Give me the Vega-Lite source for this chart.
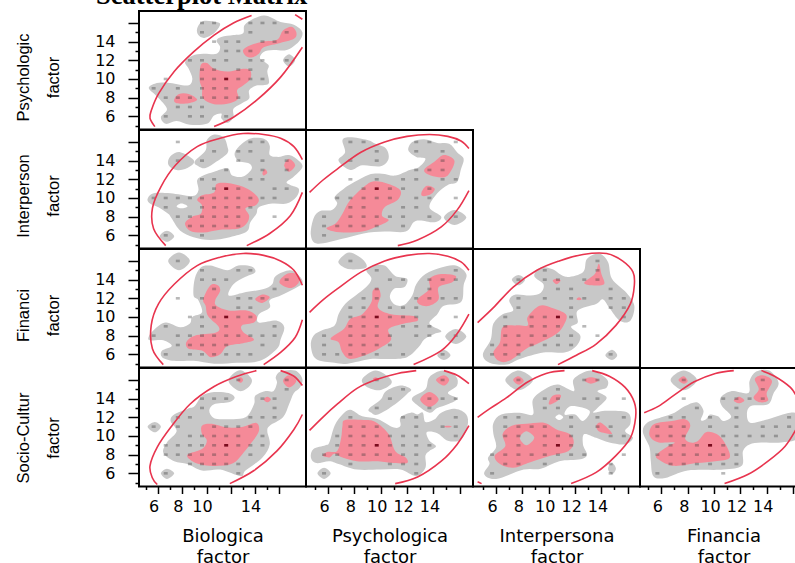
{"$schema":"https://vega.github.io/schema/vega-lite/v6.json","padding":{"left":14,"top":-18,"right":-12,"bottom":0},"background":"white","bounds":"flush","spacing":0,"columns":4,
"title":{"text":"Scatterplot Matrix","font":"Liberation Serif","fontWeight":"bold","fontSize":26.5,"anchor":"start","frame":"group","dx":-43,"offset":1},
"config":{"view":{"stroke":"#000","strokeWidth":2},"axis":{"grid":false,"domain":false,"tickColor":"#000","tickWidth":1.5,"labelColor":"#000","titleColor":"#000","labelFont":"DejaVu Sans","labelFontSize":16,"labelOverlap":false,"labelBound":false,"titleFontWeight":"normal"}},
"datasets":{
"a1":[{"x":5.6,"y":9,"s":1,"k":"g"},{"x":6.1,"y":9.5,"s":1,"k":"g"},{"x":7.2,"y":9.6,"s":1,"k":"g"},{"x":8.8,"y":9.3,"s":1,"k":"g"},{"x":9.2,"y":10,"s":1,"k":"g"},{"x":8.9,"y":11.1,"s":1,"k":"g"},{"x":8.6,"y":11.8,"s":1,"k":"g"},{"x":9.2,"y":12.5,"s":1,"k":"g"},{"x":10.1,"y":12.7,"s":1,"k":"g"},{"x":11.2,"y":12.7,"s":1,"k":"g"},{"x":11.5,"y":13.4,"s":1,"k":"g"},{"x":11.2,"y":14.1,"s":1,"k":"g"},{"x":11.6,"y":14.5,"s":1,"k":"g"},{"x":12.6,"y":14.7,"s":1,"k":"g"},{"x":13.4,"y":14.9,"s":1,"k":"g"},{"x":13.6,"y":15.9,"s":1,"k":"g"},{"x":15.1,"y":16.8,"s":1,"k":"g"},{"x":16.5,"y":16.1,"s":1,"k":"g"},{"x":17.6,"y":15.8,"s":1,"k":"g"},{"x":18.3,"y":15,"s":1,"k":"g"},{"x":18,"y":14,"s":1,"k":"g"},{"x":17,"y":13.1,"s":1,"k":"g"},{"x":15.9,"y":13.1,"s":1,"k":"g"},{"x":15.1,"y":12.9,"s":1,"k":"g"},{"x":14.8,"y":12.2,"s":1,"k":"g"},{"x":15.5,"y":11.5,"s":1,"k":"g"},{"x":15.4,"y":10.8,"s":1,"k":"g"},{"x":15.5,"y":9.5,"s":1,"k":"g"},{"x":14.5,"y":9.3,"s":1,"k":"g"},{"x":13.9,"y":8.8,"s":1,"k":"g"},{"x":13.9,"y":7.9,"s":1,"k":"g"},{"x":13.3,"y":7.4,"s":1,"k":"g"},{"x":12.6,"y":6.8,"s":1,"k":"g"},{"x":12.6,"y":5.9,"s":1,"k":"g"},{"x":12.1,"y":5.3,"s":1,"k":"g"},{"x":11.6,"y":5.8,"s":1,"k":"g"},{"x":11.6,"y":6.3,"s":1,"k":"g"},{"x":11,"y":6.1,"s":1,"k":"g"},{"x":10.4,"y":5.2,"s":1,"k":"g"},{"x":9,"y":5.1,"s":1,"k":"g"},{"x":7.9,"y":5.5,"s":1,"k":"g"},{"x":7,"y":5.2,"s":1,"k":"g"},{"x":6.6,"y":5.9,"s":1,"k":"g"},{"x":7.1,"y":6.8,"s":1,"k":"g"},{"x":6.3,"y":8.1,"s":1,"k":"g"},
{"x":9.6,"y":15.4,"s":2,"k":"g"},{"x":10.1,"y":16.2,"s":2,"k":"g"},{"x":11.2,"y":16.1,"s":2,"k":"g"},{"x":11.5,"y":15.8,"s":2,"k":"g"},{"x":11,"y":14.9,"s":2,"k":"g"},{"x":10.2,"y":14.4,"s":2,"k":"g"},{"x":9.7,"y":14.7,"s":2,"k":"g"},
{"x":16.7,"y":12,"s":3,"k":"g"},{"x":17.2,"y":12.65,"s":3,"k":"g"},{"x":17.7,"y":12,"s":3,"k":"g"},{"x":17.2,"y":11.35,"s":3,"k":"g"},
{"x":9.9,"y":11.5,"s":4,"k":"r"},{"x":10.4,"y":11.7,"s":4,"k":"r"},{"x":11,"y":11.1,"s":4,"k":"r"},{"x":12.1,"y":10.8,"s":4,"k":"r"},{"x":13.4,"y":11.1,"s":4,"k":"r"},{"x":14,"y":10.9,"s":4,"k":"r"},{"x":14,"y":10,"s":4,"k":"r"},{"x":13.4,"y":9.3,"s":4,"k":"r"},{"x":12.9,"y":8.8,"s":4,"k":"r"},{"x":13,"y":7.9,"s":4,"k":"r"},{"x":12.3,"y":7.4,"s":4,"k":"r"},{"x":11,"y":7.3,"s":4,"k":"r"},{"x":10.1,"y":7.9,"s":4,"k":"r"},{"x":10,"y":9,"s":4,"k":"r"},{"x":9.8,"y":9.9,"s":4,"k":"r"},
{"x":7.7,"y":7.8,"s":5,"k":"r"},{"x":8.1,"y":8.4,"s":5,"k":"r"},{"x":8.9,"y":8.4,"s":5,"k":"r"},{"x":9.6,"y":7.8,"s":5,"k":"r"},{"x":8.9,"y":7.4,"s":5,"k":"r"},{"x":7.9,"y":7.4,"s":5,"k":"r"},
{"x":13.4,"y":13.1,"s":6,"k":"r"},{"x":14,"y":13.6,"s":6,"k":"r"},{"x":15,"y":14,"s":6,"k":"r"},{"x":16.2,"y":14.2,"s":6,"k":"r"},{"x":16.7,"y":15.2,"s":6,"k":"r"},{"x":17.4,"y":15.6,"s":6,"k":"r"},{"x":17.8,"y":15,"s":6,"k":"r"},{"x":17.6,"y":14.3,"s":6,"k":"r"},{"x":16.3,"y":13.8,"s":6,"k":"r"},{"x":15.1,"y":13.4,"s":6,"k":"r"},{"x":14.7,"y":12.7,"s":6,"k":"r"},{"x":14.1,"y":12.3,"s":6,"k":"r"},{"x":13.6,"y":12.5,"s":6,"k":"r"}],
"a2":[{"x":10,"y":16},{"x":11,"y":16},{"x":14,"y":16},{"x":15,"y":16},{"x":16,"y":16},{"x":10,"y":15},{"x":14,"y":15},{"x":17,"y":15},{"x":11,"y":14},{"x":12,"y":14},{"x":13,"y":14},{"x":15,"y":14},{"x":16,"y":14},{"x":12,"y":13},{"x":13,"y":13},{"x":14,"y":13},{"x":9,"y":12},{"x":10,"y":12},{"x":11,"y":12},{"x":12,"y":12},{"x":14,"y":12},{"x":15,"y":12},{"x":17,"y":12},{"x":10,"y":11},{"x":11,"y":11},{"x":13,"y":11},{"x":14,"y":11},{"x":7,"y":10},{"x":10,"y":10},{"x":11,"y":10},{"x":12,"y":10,"n":2},{"x":13,"y":10},{"x":14,"y":10},{"x":15,"y":10},{"x":6,"y":9},{"x":8,"y":9},{"x":10,"y":9},{"x":11,"y":9},{"x":12,"y":9},{"x":7,"y":8},{"x":8,"y":8},{"x":9,"y":8},{"x":10,"y":8},{"x":11,"y":8},{"x":12,"y":8},{"x":13,"y":8},{"x":8,"y":7},{"x":9,"y":7},{"x":10,"y":7},{"x":7,"y":6},{"x":9,"y":6},{"x":10,"y":6},{"x":12,"y":6}],
"a3":[{"x":14.1,"y":16.8,"e":1},{"x":12.6,"y":16,"e":1},{"x":11,"y":14.7,"e":1},{"x":9.3,"y":12.9,"e":1},{"x":7.7,"y":10.8,"e":1},{"x":6.4,"y":8.4,"e":1},{"x":5.8,"y":6.6,"e":1},{"x":5.7,"y":5.8,"e":1},{"x":6.1,"y":4.9,"e":1},{"x":11,"y":4.9,"e":2},{"x":12.6,"y":5.9,"e":2},{"x":14.5,"y":7.7,"e":2},{"x":16.5,"y":10.2,"e":2},{"x":18.3,"y":13.4,"e":2},{"x":17.7,"y":16.9,"e":3},{"x":18.3,"y":16.4,"e":3}],
"b1":[{"x":5.5,"y":9.9,"s":1,"k":"g"},{"x":6,"y":10.5,"s":1,"k":"g"},{"x":7.4,"y":10.5,"s":1,"k":"g"},{"x":9.2,"y":10.2,"s":1,"k":"g"},{"x":9.7,"y":10.8,"s":1,"k":"g"},{"x":9.6,"y":11.9,"s":1,"k":"g"},{"x":10.1,"y":12.4,"s":1,"k":"g"},{"x":11,"y":12.8,"s":1,"k":"g"},{"x":12.1,"y":13.2,"s":1,"k":"g"},{"x":12.5,"y":12.4,"s":1,"k":"g"},{"x":13.4,"y":12.3,"s":1,"k":"g"},{"x":14.1,"y":13.1,"s":1,"k":"g"},{"x":13.9,"y":13.7,"s":1,"k":"g"},{"x":13,"y":14,"s":1,"k":"g"},{"x":12.7,"y":14.8,"s":1,"k":"g"},{"x":13.3,"y":15.8,"s":1,"k":"g"},{"x":14.1,"y":16.4,"s":1,"k":"g"},{"x":15.2,"y":16.3,"s":1,"k":"g"},{"x":15.6,"y":15.6,"s":1,"k":"g"},{"x":15.6,"y":14.6,"s":1,"k":"g"},{"x":16.3,"y":14.4,"s":1,"k":"g"},{"x":17.2,"y":14.6,"s":1,"k":"g"},{"x":18,"y":14,"s":1,"k":"g"},{"x":18.3,"y":13.3,"s":1,"k":"g"},{"x":17.6,"y":12.3,"s":1,"k":"g"},{"x":17,"y":11.7,"s":1,"k":"g"},{"x":17.3,"y":11.4,"s":1,"k":"g"},{"x":18,"y":11,"s":1,"k":"g"},{"x":17.8,"y":10.1,"s":1,"k":"g"},{"x":17,"y":9.4,"s":1,"k":"g"},{"x":15.8,"y":9.4,"s":1,"k":"g"},{"x":14.7,"y":9,"s":1,"k":"g"},{"x":14.5,"y":8.3,"s":1,"k":"g"},{"x":14,"y":7.4,"s":1,"k":"g"},{"x":13.7,"y":6.4,"s":1,"k":"g"},{"x":12.3,"y":5.8,"s":1,"k":"g"},{"x":10.7,"y":5.5,"s":1,"k":"g"},{"x":9.3,"y":5.8,"s":1,"k":"g"},{"x":8.2,"y":6.5,"s":1,"k":"g"},{"x":7.5,"y":7.8,"s":1,"k":"g"},{"x":7.2,"y":8.3,"s":1,"k":"g"},{"x":6.4,"y":9,"s":1,"k":"g"},{"x":5.7,"y":9.4,"s":1,"k":"g"},
{"x":7.2,"y":14,"s":2,"k":"g"},{"x":7.5,"y":14.6,"s":2,"k":"g"},{"x":8.2,"y":14.9,"s":2,"k":"g"},{"x":9.2,"y":14.2,"s":2,"k":"g"},{"x":9.3,"y":13.7,"s":2,"k":"g"},{"x":8.6,"y":13.1,"s":2,"k":"g"},{"x":7.9,"y":13,"s":2,"k":"g"},{"x":7.3,"y":13.4,"s":2,"k":"g"},
{"x":9.4,"y":13.9,"s":3,"k":"g"},{"x":10.3,"y":15.1,"s":3,"k":"g"},{"x":10.4,"y":16.2,"s":3,"k":"g"},{"x":11,"y":16.8,"s":3,"k":"g"},{"x":11.8,"y":16.5,"s":3,"k":"g"},{"x":12.1,"y":15.5,"s":3,"k":"g"},{"x":12.1,"y":14.8,"s":3,"k":"g"},{"x":11.2,"y":13.9,"s":3,"k":"g"},{"x":10.3,"y":13.2,"s":3,"k":"g"},{"x":9.7,"y":13.4,"s":3,"k":"g"},
{"x":6.5,"y":5.9,"s":4,"k":"g"},{"x":7.1,"y":6.5,"s":4,"k":"g"},{"x":7.7,"y":5.9,"s":4,"k":"g"},{"x":7.1,"y":5.3,"s":4,"k":"g"},
{"x":7.9,"y":9.1,"s":5,"k":"w"},{"x":8.3,"y":9.4,"s":5,"k":"w"},{"x":8.8,"y":9.1,"s":5,"k":"w"},{"x":8.3,"y":8.9,"s":5,"k":"w"},
{"x":11.2,"y":11.5,"s":6,"k":"r"},{"x":12.1,"y":11.6,"s":6,"k":"r"},{"x":13.4,"y":11.2,"s":6,"k":"r"},{"x":14.3,"y":10.5,"s":6,"k":"r"},{"x":14.7,"y":9.8,"s":6,"k":"r"},{"x":14.4,"y":9.2,"s":6,"k":"r"},{"x":13.6,"y":8.9,"s":6,"k":"r"},{"x":13.9,"y":8.1,"s":6,"k":"r"},{"x":13.7,"y":7.3,"s":6,"k":"r"},{"x":13,"y":6.7,"s":6,"k":"r"},{"x":11.5,"y":6.6,"s":6,"k":"r"},{"x":10.1,"y":6.3,"s":6,"k":"r"},{"x":9,"y":6.5,"s":6,"k":"r"},{"x":8.6,"y":7.3,"s":6,"k":"r"},{"x":9.2,"y":8,"s":6,"k":"r"},{"x":9.9,"y":8.3,"s":6,"k":"r"},{"x":10,"y":9.2,"s":6,"k":"r"},{"x":9.6,"y":9.8,"s":6,"k":"r"},{"x":10,"y":10.3,"s":6,"k":"r"},{"x":11,"y":10.6,"s":6,"k":"r"},
{"x":16.8,"y":13.5,"s":7,"k":"r"},{"x":17.2,"y":14.2,"s":7,"k":"r"},{"x":17.7,"y":13.5,"s":7,"k":"r"},{"x":17.2,"y":12.8,"s":7,"k":"r"},
{"x":15,"y":12.7,"s":8,"k":"r"},{"x":15.2,"y":13.1,"s":8,"k":"r"},{"x":15.4,"y":12.7,"s":8,"k":"r"},{"x":15.1,"y":12.4,"s":8,"k":"r"}],
"b2":[{"x":8,"y":16},{"x":14,"y":16},{"x":15,"y":16},{"x":11,"y":15},{"x":13,"y":15},{"x":14,"y":15},{"x":8,"y":14},{"x":10,"y":14},{"x":13,"y":14},{"x":15,"y":14},{"x":17,"y":14},{"x":12,"y":13},{"x":15,"y":13},{"x":17,"y":13},{"x":10,"y":12},{"x":11,"y":12},{"x":14,"y":12},{"x":15,"y":12},{"x":11,"y":11},{"x":12,"y":11,"n":2},{"x":13,"y":11},{"x":16,"y":11},{"x":17,"y":11},{"x":6,"y":10},{"x":7,"y":10},{"x":8,"y":10},{"x":9,"y":10},{"x":10,"y":10},{"x":11,"y":10},{"x":12,"y":10},{"x":13,"y":10},{"x":14,"y":10},{"x":15,"y":10},{"x":16,"y":10},{"x":7,"y":9},{"x":10,"y":9},{"x":11,"y":9},{"x":12,"y":9},{"x":13,"y":9},{"x":14,"y":9},{"x":8,"y":8},{"x":9,"y":8},{"x":10,"y":8},{"x":11,"y":8},{"x":12,"y":8},{"x":13,"y":8},{"x":16,"y":8},{"x":9,"y":7},{"x":10,"y":7},{"x":11,"y":7},{"x":12,"y":7},{"x":13,"y":7},{"x":7,"y":6},{"x":10,"y":6}],
"b3":[{"x":18.3,"y":14.1,"e":1},{"x":17.6,"y":15.5,"e":1},{"x":16.5,"y":16.4,"e":1},{"x":15.1,"y":16.8,"e":1},{"x":13.4,"y":16.9,"e":1},{"x":11.5,"y":16.4,"e":1},{"x":9.6,"y":15.5,"e":1},{"x":7.8,"y":13.5,"e":1},{"x":6.6,"y":11.2,"e":1},{"x":5.9,"y":8.9,"e":1},{"x":6,"y":6.7,"e":1},{"x":7,"y":4.9,"e":1},{"x":13.7,"y":4.9,"e":2},{"x":15.6,"y":6.2,"e":2},{"x":17.3,"y":8.1,"e":2},{"x":18.3,"y":10.6,"e":2}],
"c1":[{"x":5,"y":6,"s":1,"k":"g"},{"x":5.2,"y":7.8,"s":1,"k":"g"},{"x":5.7,"y":8.6,"s":1,"k":"g"},{"x":6.6,"y":8.7,"s":1,"k":"g"},{"x":7,"y":9.4,"s":1,"k":"g"},{"x":6.8,"y":10.1,"s":1,"k":"g"},{"x":7.5,"y":11,"s":1,"k":"g"},{"x":8.3,"y":11.7,"s":1,"k":"g"},{"x":9.4,"y":12.5,"s":1,"k":"g"},{"x":10.4,"y":12.6,"s":1,"k":"g"},{"x":11.4,"y":12.4,"s":1,"k":"g"},{"x":12.5,"y":13,"s":1,"k":"g"},{"x":13.2,"y":13.3,"s":1,"k":"g"},{"x":13.7,"y":14.2,"s":1,"k":"g"},{"x":13,"y":14.4,"s":1,"k":"g"},{"x":12.4,"y":15.1,"s":1,"k":"g"},{"x":12.7,"y":16,"s":1,"k":"g"},{"x":13.6,"y":16.3,"s":1,"k":"g"},{"x":14.6,"y":15.9,"s":1,"k":"g"},{"x":15.5,"y":15.8,"s":1,"k":"g"},{"x":16.1,"y":14.9,"s":1,"k":"g"},{"x":16.6,"y":14.2,"s":1,"k":"g"},{"x":16.4,"y":13.1,"s":1,"k":"g"},{"x":16.1,"y":11.7,"s":1,"k":"g"},{"x":15.4,"y":11.4,"s":1,"k":"g"},{"x":14.6,"y":10.5,"s":1,"k":"g"},{"x":14,"y":9,"s":1,"k":"g"},{"x":14.9,"y":8,"s":1,"k":"g"},{"x":14.4,"y":7.4,"s":1,"k":"g"},{"x":13.3,"y":7.6,"s":1,"k":"g"},{"x":12.8,"y":7.4,"s":1,"k":"g"},{"x":12.2,"y":6.4,"s":1,"k":"g"},{"x":10.6,"y":6.4,"s":1,"k":"g"},{"x":9,"y":6.2,"s":1,"k":"g"},{"x":7.3,"y":5.6,"s":1,"k":"g"},{"x":5.5,"y":5.1,"s":1,"k":"g"},
{"x":15.1,"y":7.9,"s":2,"k":"g"},{"x":15.9,"y":8.7,"s":2,"k":"g"},{"x":16.8,"y":7.9,"s":2,"k":"g"},{"x":15.9,"y":7.1,"s":2,"k":"g"},
{"x":7.4,"y":16.2,"s":3,"k":"g"},{"x":8,"y":16.5,"s":3,"k":"g"},{"x":9.3,"y":16.2,"s":3,"k":"g"},{"x":9.9,"y":15.8,"s":3,"k":"g"},{"x":10.7,"y":15.3,"s":3,"k":"g"},{"x":10.9,"y":14.2,"s":3,"k":"g"},{"x":10.3,"y":13.4,"s":3,"k":"g"},{"x":8.9,"y":13.5,"s":3,"k":"g"},{"x":8,"y":13,"s":3,"k":"g"},{"x":7.1,"y":14,"s":3,"k":"g"},{"x":7.6,"y":14.9,"s":3,"k":"g"},
{"x":6.2,"y":6.8,"s":4,"k":"r"},{"x":6.9,"y":7.3,"s":4,"k":"r"},{"x":7.4,"y":8.3,"s":4,"k":"r"},{"x":8,"y":9.8,"s":4,"k":"r"},{"x":9.2,"y":11.4,"s":4,"k":"r"},{"x":9.9,"y":11.8,"s":4,"k":"r"},{"x":10.9,"y":11.5,"s":4,"k":"r"},{"x":11.8,"y":10.8,"s":4,"k":"r"},{"x":11.6,"y":9.8,"s":4,"k":"r"},{"x":10.6,"y":9,"s":4,"k":"r"},{"x":10.4,"y":8.1,"s":4,"k":"r"},{"x":10.9,"y":7.6,"s":4,"k":"r"},{"x":9.9,"y":6.9,"s":4,"k":"r"},{"x":8.9,"y":6.4,"s":4,"k":"r"},{"x":7.5,"y":6.3,"s":4,"k":"r"},{"x":6.5,"y":6.5,"s":4,"k":"r"},
{"x":13.6,"y":13,"s":5,"k":"r"},{"x":14.4,"y":13.9,"s":5,"k":"r"},{"x":15.1,"y":14.6,"s":5,"k":"r"},{"x":15.9,"y":14,"s":5,"k":"r"},{"x":15.5,"y":12.6,"s":5,"k":"r"},{"x":15,"y":12.2,"s":5,"k":"r"},{"x":14.1,"y":12.4,"s":5,"k":"r"},
{"x":13.4,"y":10.6,"s":6,"k":"r"},{"x":13.8,"y":11.3,"s":6,"k":"r"},{"x":14.4,"y":11,"s":6,"k":"r"},{"x":14.1,"y":10.4,"s":6,"k":"r"},{"x":13.5,"y":10.2,"s":6,"k":"r"}],
"c2":[{"x":8,"y":16},{"x":9,"y":16},{"x":13,"y":16},{"x":14,"y":16},{"x":16,"y":16},{"x":10,"y":15},{"x":13,"y":15},{"x":15,"y":15},{"x":8,"y":14},{"x":10,"y":14},{"x":15,"y":14},{"x":13,"y":13},{"x":14,"y":13},{"x":15,"y":13},{"x":8,"y":12},{"x":10,"y":12},{"x":12,"y":12},{"x":13,"y":12},{"x":15,"y":12},{"x":16,"y":12},{"x":9,"y":11},{"x":10,"y":11,"n":2},{"x":11,"y":11},{"x":12,"y":11},{"x":14,"y":11},{"x":7,"y":10},{"x":8,"y":10},{"x":9,"y":10},{"x":10,"y":10},{"x":11,"y":10},{"x":13,"y":10},{"x":14,"y":10},{"x":16,"y":10},{"x":8,"y":9},{"x":9,"y":9},{"x":12,"y":9},{"x":13,"y":9},{"x":6,"y":8},{"x":8,"y":8},{"x":9,"y":8},{"x":10,"y":8},{"x":11,"y":8},{"x":12,"y":8},{"x":14,"y":8},{"x":16,"y":8},{"x":6,"y":7},{"x":7,"y":7},{"x":8,"y":7},{"x":9,"y":7},{"x":10,"y":7},{"x":12,"y":7},{"x":6,"y":6}],
"c3":[{"x":17,"y":15.3,"e":1},{"x":16.4,"y":16.1,"e":1},{"x":15.4,"y":16.6,"e":1},{"x":14,"y":16.8,"e":1},{"x":12.3,"y":16.6,"e":1},{"x":10.6,"y":16,"e":1},{"x":8.8,"y":14.9,"e":1},{"x":7,"y":13.1,"e":1},{"x":5.9,"y":11.9,"e":1},{"x":4.9,"y":10.6,"e":1},{"x":17,"y":10.8,"e":2},{"x":16.1,"y":8.7,"e":2},{"x":14.9,"y":6.9,"e":2},{"x":13.1,"y":5.5,"e":2},{"x":11.6,"y":4.9,"e":2}],
"d1":[{"x":5.6,"y":7.9,"s":1,"k":"g"},{"x":6.1,"y":8.7,"s":1,"k":"g"},{"x":7,"y":9.4,"s":1,"k":"g"},{"x":8.2,"y":8.9,"s":1,"k":"g"},{"x":9,"y":9.3,"s":1,"k":"g"},{"x":9.2,"y":10,"s":1,"k":"g"},{"x":10,"y":10.5,"s":1,"k":"g"},{"x":9.7,"y":11.8,"s":1,"k":"g"},{"x":9.3,"y":12.3,"s":1,"k":"g"},{"x":9.4,"y":14.1,"s":1,"k":"g"},{"x":9.9,"y":15.3,"s":1,"k":"g"},{"x":10.7,"y":15.5,"s":1,"k":"g"},{"x":12.1,"y":15,"s":1,"k":"g"},{"x":13,"y":15.5,"s":1,"k":"g"},{"x":14.1,"y":15.4,"s":1,"k":"g"},{"x":14.4,"y":14.8,"s":1,"k":"g"},{"x":13.6,"y":14.3,"s":1,"k":"g"},{"x":12.6,"y":13.5,"s":1,"k":"g"},{"x":12.2,"y":12.3,"s":1,"k":"g"},{"x":13.4,"y":12.6,"s":1,"k":"g"},{"x":15.1,"y":13,"s":1,"k":"g"},{"x":15.8,"y":13.5,"s":1,"k":"g"},{"x":16.1,"y":14.4,"s":1,"k":"g"},{"x":17.3,"y":15,"s":1,"k":"g"},{"x":18.1,"y":14.3,"s":1,"k":"g"},{"x":18.3,"y":13.6,"s":1,"k":"g"},{"x":17.6,"y":13,"s":1,"k":"g"},{"x":16.5,"y":12.3,"s":1,"k":"g"},{"x":15.6,"y":11.8,"s":1,"k":"g"},{"x":15.6,"y":11,"s":1,"k":"g"},{"x":14.7,"y":10.3,"s":1,"k":"g"},{"x":14.7,"y":9.4,"s":1,"k":"g"},{"x":16.2,"y":9.6,"s":1,"k":"g"},{"x":16.8,"y":8.9,"s":1,"k":"g"},{"x":16.5,"y":7.6,"s":1,"k":"g"},{"x":16.2,"y":6.6,"s":1,"k":"g"},{"x":14.8,"y":5.3,"s":1,"k":"g"},{"x":12.9,"y":5.1,"s":1,"k":"g"},{"x":11,"y":5,"s":1,"k":"g"},{"x":9.3,"y":5.3,"s":1,"k":"g"},{"x":7.7,"y":5.3,"s":1,"k":"g"},{"x":6.7,"y":5.7,"s":1,"k":"g"},{"x":6.7,"y":6.4,"s":1,"k":"g"},{"x":7.5,"y":6.9,"s":1,"k":"g"},{"x":6.8,"y":7.5,"s":1,"k":"g"},{"x":5.7,"y":7.5,"s":1,"k":"g"},
{"x":7.2,"y":16,"s":2,"k":"g"},{"x":8.1,"y":16.9,"s":2,"k":"g"},{"x":9,"y":16,"s":2,"k":"g"},{"x":8.1,"y":15,"s":2,"k":"g"},
{"x":10.7,"y":13.4,"s":3,"k":"r"},{"x":11.3,"y":13.4,"s":3,"k":"r"},{"x":11.5,"y":12.8,"s":3,"k":"r"},{"x":11.1,"y":11.8,"s":3,"k":"r"},{"x":11.2,"y":11.2,"s":3,"k":"r"},{"x":12.2,"y":10.7,"s":3,"k":"r"},{"x":13.7,"y":10.7,"s":3,"k":"r"},{"x":14.5,"y":10.1,"s":3,"k":"r"},{"x":14.3,"y":9.4,"s":3,"k":"r"},{"x":13.3,"y":9.1,"s":3,"k":"r"},{"x":13.4,"y":8.4,"s":3,"k":"r"},{"x":14.3,"y":7.6,"s":3,"k":"r"},{"x":13.4,"y":7.2,"s":3,"k":"r"},{"x":12.1,"y":6.9,"s":3,"k":"r"},{"x":11.5,"y":6,"s":3,"k":"r"},{"x":10.7,"y":5.7,"s":3,"k":"r"},{"x":10,"y":6.4,"s":3,"k":"r"},{"x":8.9,"y":6.6,"s":3,"k":"r"},{"x":8.7,"y":7.3,"s":3,"k":"r"},{"x":9.4,"y":8,"s":3,"k":"r"},{"x":11.1,"y":8.3,"s":3,"k":"r"},{"x":11.4,"y":8.9,"s":3,"k":"r"},{"x":10.5,"y":10.1,"s":3,"k":"r"},{"x":10.3,"y":11.2,"s":3,"k":"r"},{"x":10.1,"y":11.9,"s":3,"k":"r"},
{"x":16.4,"y":13.7,"s":4,"k":"r"},{"x":17,"y":14.6,"s":4,"k":"r"},{"x":17.8,"y":14.6,"s":4,"k":"r"},{"x":18,"y":13.7,"s":4,"k":"r"},{"x":17.3,"y":13.1,"s":4,"k":"r"},
{"x":14.4,"y":11.9,"s":5,"k":"r"},{"x":15,"y":12.4,"s":5,"k":"r"},{"x":15.6,"y":12.1,"s":5,"k":"r"},{"x":15,"y":11.5,"s":5,"k":"r"}],
"d2":[{"x":8,"y":16},{"x":10,"y":15},{"x":13,"y":15},{"x":14,"y":15},{"x":10,"y":14},{"x":11,"y":14},{"x":12,"y":14},{"x":17,"y":14},{"x":11,"y":13},{"x":16,"y":13},{"x":8,"y":12},{"x":10,"y":12},{"x":13,"y":12},{"x":14,"y":12},{"x":15,"y":12},{"x":11,"y":11},{"x":13,"y":11},{"x":14,"y":11},{"x":9,"y":10},{"x":10,"y":10},{"x":11,"y":10},{"x":12,"y":10,"n":2},{"x":13,"y":10},{"x":14,"y":10},{"x":7,"y":9},{"x":10,"y":9},{"x":12,"y":9},{"x":16,"y":9},{"x":6,"y":8},{"x":8,"y":8},{"x":9,"y":8},{"x":10,"y":8},{"x":11,"y":8},{"x":12,"y":8},{"x":13,"y":8},{"x":14,"y":8},{"x":15,"y":8},{"x":16,"y":8},{"x":8,"y":7},{"x":9,"y":7},{"x":10,"y":7},{"x":11,"y":7},{"x":12,"y":7},{"x":15,"y":7},{"x":7,"y":6},{"x":9,"y":6},{"x":10,"y":6},{"x":11,"y":6},{"x":12,"y":6},{"x":13,"y":6},{"x":14,"y":6}],
"d3":[{"x":18.3,"y":13.4,"e":1},{"x":17.6,"y":15,"e":1},{"x":16.5,"y":16,"e":1},{"x":15.1,"y":16.6,"e":1},{"x":13.4,"y":16.8,"e":1},{"x":11.5,"y":16.4,"e":1},{"x":9.6,"y":15.5,"e":1},{"x":7.7,"y":13.5,"e":1},{"x":6.4,"y":11.4,"e":1},{"x":5.8,"y":9.1,"e":1},{"x":5.9,"y":6.6,"e":1},{"x":6.8,"y":4.9,"e":1},{"x":15.1,"y":4.9,"e":2},{"x":16.5,"y":6.2,"e":2},{"x":17.7,"y":7.8,"e":2},{"x":18.3,"y":9.7,"e":2}],
"e1":[{"x":5,"y":6.9,"s":1,"k":"g"},{"x":5.2,"y":8,"s":1,"k":"g"},{"x":5.9,"y":8.6,"s":1,"k":"g"},{"x":6.8,"y":9.1,"s":1,"k":"g"},{"x":7.1,"y":10.3,"s":1,"k":"g"},{"x":7.6,"y":11.4,"s":1,"k":"g"},{"x":8.4,"y":12.3,"s":1,"k":"g"},{"x":9.2,"y":13.2,"s":1,"k":"g"},{"x":9.6,"y":14.1,"s":1,"k":"g"},{"x":9.2,"y":15,"s":1,"k":"g"},{"x":9.7,"y":15.5,"s":1,"k":"g"},{"x":10.6,"y":15.5,"s":1,"k":"g"},{"x":11.4,"y":14.4,"s":1,"k":"g"},{"x":12.3,"y":14.1,"s":1,"k":"g"},{"x":12.1,"y":13.2,"s":1,"k":"g"},{"x":11.3,"y":13,"s":1,"k":"g"},{"x":11,"y":12.1,"s":1,"k":"g"},{"x":11.4,"y":11.3,"s":1,"k":"g"},{"x":12.1,"y":11.3,"s":1,"k":"g"},{"x":12.7,"y":12.3,"s":1,"k":"g"},{"x":13,"y":13.5,"s":1,"k":"g"},{"x":13.7,"y":14.6,"s":1,"k":"g"},{"x":14.9,"y":15.3,"s":1,"k":"g"},{"x":16,"y":15.5,"s":1,"k":"g"},{"x":16.8,"y":14.6,"s":1,"k":"g"},{"x":16.6,"y":13.4,"s":1,"k":"g"},{"x":16.4,"y":11.6,"s":1,"k":"g"},{"x":15.1,"y":11.2,"s":1,"k":"g"},{"x":14.6,"y":10.3,"s":1,"k":"g"},{"x":14,"y":9.3,"s":1,"k":"g"},{"x":14.9,"y":8.5,"s":1,"k":"g"},{"x":14.4,"y":8.2,"s":1,"k":"g"},{"x":13.6,"y":7.6,"s":1,"k":"g"},{"x":13.2,"y":6.8,"s":1,"k":"g"},{"x":12.3,"y":5.7,"s":1,"k":"g"},{"x":10.9,"y":5.5,"s":1,"k":"g"},{"x":9.5,"y":5.5,"s":1,"k":"g"},{"x":7.8,"y":5,"s":1,"k":"g"},{"x":6.8,"y":5.1,"s":1,"k":"g"},{"x":5.4,"y":5.5,"s":1,"k":"g"},
{"x":7.1,"y":16,"s":2,"k":"g"},{"x":7.9,"y":16.9,"s":2,"k":"g"},{"x":8.9,"y":16.2,"s":2,"k":"g"},{"x":9.2,"y":15.3,"s":2,"k":"g"},{"x":8,"y":15.1,"s":2,"k":"g"},{"x":7.4,"y":15.4,"s":2,"k":"g"},
{"x":15.2,"y":7.9,"s":3,"k":"g"},{"x":16,"y":8.7,"s":3,"k":"g"},{"x":16.8,"y":7.9,"s":3,"k":"g"},{"x":16,"y":7.1,"s":3,"k":"g"},
{"x":14.6,"y":5.9,"s":4,"k":"g"},{"x":15.1,"y":6.5,"s":4,"k":"g"},{"x":15.6,"y":5.9,"s":4,"k":"g"},{"x":15.1,"y":5.4,"s":4,"k":"g"},
{"x":6.5,"y":7.7,"s":5,"k":"r"},{"x":7.5,"y":8.7,"s":5,"k":"r"},{"x":8,"y":9.8,"s":5,"k":"r"},{"x":8.9,"y":10.3,"s":5,"k":"r"},{"x":9.6,"y":11.6,"s":5,"k":"r"},{"x":9.7,"y":12.8,"s":5,"k":"r"},{"x":10.1,"y":13.1,"s":5,"k":"r"},{"x":10.3,"y":12.3,"s":5,"k":"r"},{"x":10.1,"y":11,"s":5,"k":"r"},{"x":11.1,"y":10.3,"s":5,"k":"r"},{"x":12.8,"y":10.1,"s":5,"k":"r"},{"x":13.1,"y":9.6,"s":5,"k":"r"},{"x":12.1,"y":9.3,"s":5,"k":"r"},{"x":10.9,"y":8.7,"s":5,"k":"r"},{"x":11.1,"y":7.6,"s":5,"k":"r"},{"x":10.4,"y":6.8,"s":5,"k":"r"},{"x":9.3,"y":6,"s":5,"k":"r"},{"x":8,"y":5.5,"s":5,"k":"r"},{"x":7.4,"y":6.2,"s":5,"k":"r"},{"x":7.1,"y":7.3,"s":5,"k":"r"},
{"x":13.1,"y":11.9,"s":6,"k":"r"},{"x":14,"y":13,"s":6,"k":"r"},{"x":14,"y":14.1,"s":6,"k":"r"},{"x":14.9,"y":14.6,"s":6,"k":"r"},{"x":16,"y":14.4,"s":6,"k":"r"},{"x":15.7,"y":13.7,"s":6,"k":"r"},{"x":14.7,"y":13.2,"s":6,"k":"r"},{"x":14.7,"y":11.9,"s":6,"k":"r"},{"x":14,"y":11.2,"s":6,"k":"r"},{"x":13.3,"y":11.3,"s":6,"k":"r"}],
"e2":[{"x":8,"y":16},{"x":10,"y":15},{"x":16,"y":15},{"x":11,"y":14},{"x":12,"y":14},{"x":14,"y":14},{"x":15,"y":14},{"x":16,"y":14},{"x":10,"y":13},{"x":14,"y":13},{"x":9,"y":12},{"x":10,"y":12},{"x":13,"y":12},{"x":14,"y":12},{"x":15,"y":12},{"x":16,"y":12},{"x":8,"y":11},{"x":9,"y":11},{"x":11,"y":11},{"x":12,"y":11},{"x":13,"y":11},{"x":8,"y":10},{"x":9,"y":10},{"x":10,"y":10,"n":2},{"x":11,"y":10},{"x":12,"y":10},{"x":13,"y":10},{"x":16,"y":10},{"x":8,"y":9},{"x":9,"y":9},{"x":10,"y":9},{"x":12,"y":9},{"x":13,"y":9},{"x":14,"y":9},{"x":6,"y":8},{"x":8,"y":8},{"x":9,"y":8},{"x":10,"y":8},{"x":11,"y":8},{"x":13,"y":8},{"x":14,"y":8},{"x":16,"y":8},{"x":6,"y":7},{"x":8,"y":7},{"x":9,"y":7},{"x":10,"y":7},{"x":11,"y":7},{"x":6,"y":6},{"x":7,"y":6},{"x":8,"y":6},{"x":9,"y":6},{"x":10,"y":6},{"x":12,"y":6},{"x":15,"y":6}],
"e3":[{"x":17,"y":15,"e":1},{"x":16.4,"y":15.9,"e":1},{"x":15.4,"y":16.5,"e":1},{"x":14,"y":16.8,"e":1},{"x":12.3,"y":16.6,"e":1},{"x":10.6,"y":16,"e":1},{"x":8.8,"y":14.8,"e":1},{"x":7,"y":13,"e":1},{"x":5.9,"y":11.8,"e":1},{"x":4.9,"y":10.5,"e":1},{"x":17,"y":10.3,"e":2},{"x":16.1,"y":8.2,"e":2},{"x":14.9,"y":6.4,"e":2},{"x":12.8,"y":4.9,"e":2}],
"f1":[{"x":5.3,"y":6,"s":1,"k":"g"},{"x":5.9,"y":7.6,"s":1,"k":"g"},{"x":6.1,"y":9.3,"s":1,"k":"g"},{"x":6.8,"y":10.3,"s":1,"k":"g"},{"x":7.6,"y":10.7,"s":1,"k":"g"},{"x":7.3,"y":11.8,"s":1,"k":"g"},{"x":7.8,"y":12.4,"s":1,"k":"g"},{"x":8.9,"y":12.3,"s":1,"k":"g"},{"x":9.7,"y":12.6,"s":1,"k":"g"},{"x":9.9,"y":13.5,"s":1,"k":"g"},{"x":9.2,"y":14.4,"s":1,"k":"g"},{"x":9.7,"y":15.3,"s":1,"k":"g"},{"x":10.6,"y":15.1,"s":1,"k":"g"},{"x":11.6,"y":14.3,"s":1,"k":"g"},{"x":12.9,"y":14.8,"s":1,"k":"g"},{"x":13.2,"y":16.2,"s":1,"k":"g"},{"x":14.1,"y":16.8,"s":1,"k":"g"},{"x":14.8,"y":15.9,"s":1,"k":"g"},{"x":15.1,"y":14.1,"s":1,"k":"g"},{"x":16.2,"y":12.6,"s":1,"k":"g"},{"x":16.8,"y":11.2,"s":1,"k":"g"},{"x":16.5,"y":9.6,"s":1,"k":"g"},{"x":15.7,"y":9.6,"s":1,"k":"g"},{"x":14.9,"y":11,"s":1,"k":"g"},{"x":14.4,"y":11.9,"s":1,"k":"g"},{"x":13.9,"y":11.4,"s":1,"k":"g"},{"x":12.5,"y":10.7,"s":1,"k":"g"},{"x":12.5,"y":9.4,"s":1,"k":"g"},{"x":12,"y":8.9,"s":1,"k":"g"},{"x":12.7,"y":8,"s":1,"k":"g"},{"x":12.4,"y":6.9,"s":1,"k":"g"},{"x":11.5,"y":6.2,"s":1,"k":"g"},{"x":9.9,"y":6.2,"s":1,"k":"g"},{"x":8.1,"y":5.5,"s":1,"k":"g"},{"x":7.1,"y":4.9,"s":1,"k":"g"},{"x":5.8,"y":5.1,"s":1,"k":"g"},
{"x":7.5,"y":14,"s":2,"k":"g"},{"x":8,"y":14.5,"s":2,"k":"g"},{"x":8.5,"y":14,"s":2,"k":"g"},{"x":8,"y":13.4,"s":2,"k":"g"},
{"x":14.6,"y":5.9,"s":3,"k":"g"},{"x":15.1,"y":6.5,"s":3,"k":"g"},{"x":15.5,"y":5.9,"s":3,"k":"g"},{"x":15.1,"y":5.4,"s":3,"k":"g"},
{"x":6.1,"y":6.2,"s":4,"k":"r"},{"x":6.6,"y":7.3,"s":4,"k":"r"},{"x":6.8,"y":8.9,"s":4,"k":"r"},{"x":7.8,"y":9.1,"s":4,"k":"r"},{"x":8.7,"y":9.1,"s":4,"k":"r"},{"x":8.7,"y":10,"s":4,"k":"r"},{"x":9.6,"y":11.2,"s":4,"k":"r"},{"x":10.5,"y":11,"s":4,"k":"r"},{"x":11.6,"y":10.3,"s":4,"k":"r"},{"x":11.5,"y":9.3,"s":4,"k":"r"},{"x":10.9,"y":8.2,"s":4,"k":"r"},{"x":9.4,"y":7.1,"s":4,"k":"r"},{"x":8.6,"y":6.6,"s":4,"k":"r"},{"x":7.3,"y":5.3,"s":4,"k":"r"},{"x":6.5,"y":5.3,"s":4,"k":"r"},
{"x":13,"y":13.7,"s":5,"k":"r"},{"x":13.8,"y":14.6,"s":5,"k":"r"},{"x":14.1,"y":15.7,"s":5,"k":"r"},{"x":14.3,"y":14.6,"s":5,"k":"r"},{"x":14.5,"y":13.5,"s":5,"k":"r"},{"x":13.5,"y":13.4,"s":5,"k":"r"},
{"x":10.6,"y":13.9,"s":6,"k":"r"},{"x":10.9,"y":14.1,"s":6,"k":"r"},{"x":11.2,"y":13.9,"s":6,"k":"r"},{"x":10.9,"y":13.5,"s":6,"k":"r"},
{"x":12.4,"y":11.9,"s":7,"k":"r"},{"x":12.6,"y":12.1,"s":7,"k":"r"},{"x":12.8,"y":11.9,"s":7,"k":"r"},{"x":12.6,"y":11.8,"s":7,"k":"r"}],
"f2":[{"x":14,"y":16},{"x":10,"y":15},{"x":14,"y":15},{"x":8,"y":14},{"x":10,"y":14},{"x":11,"y":14},{"x":13,"y":14},{"x":14,"y":14},{"x":11,"y":13},{"x":12,"y":13},{"x":15,"y":13},{"x":8,"y":12},{"x":10,"y":12},{"x":12,"y":12},{"x":13,"y":12},{"x":15,"y":12},{"x":16,"y":12},{"x":8,"y":11},{"x":12,"y":11},{"x":15,"y":11},{"x":16,"y":11},{"x":7,"y":10},{"x":9,"y":10},{"x":10,"y":10},{"x":11,"y":10,"n":2},{"x":12,"y":10},{"x":16,"y":10},{"x":7,"y":9},{"x":9,"y":9},{"x":10,"y":9},{"x":11,"y":9},{"x":13,"y":9},{"x":7,"y":8},{"x":8,"y":8},{"x":9,"y":8},{"x":10,"y":8},{"x":11,"y":8},{"x":12,"y":8},{"x":14,"y":8},{"x":6,"y":7},{"x":7,"y":7},{"x":8,"y":7},{"x":9,"y":7},{"x":10,"y":7},{"x":11,"y":7},{"x":12,"y":7},{"x":6,"y":6},{"x":7,"y":6},{"x":8,"y":6},{"x":15,"y":6}],
"f3":[{"x":4.9,"y":9.4,"e":1},{"x":6.1,"y":11,"e":1},{"x":7.6,"y":13.2,"e":1},{"x":9.4,"y":15,"e":1},{"x":11.1,"y":16,"e":1},{"x":12.9,"y":16.7,"e":1},{"x":14.7,"y":16.8,"e":1},{"x":15.9,"y":16,"e":1},{"x":16.7,"y":14.8,"e":1},{"x":16.8,"y":13.4,"e":1},{"x":16.5,"y":11.4,"e":1},{"x":15.4,"y":9.1,"e":1},{"x":13.9,"y":7.1,"e":1},{"x":12.4,"y":5.9,"e":1},{"x":11,"y":4.9,"e":1}],
"g1":[{"x":6.8,"y":8.2,"s":1,"k":"g"},{"x":7.1,"y":9.3,"s":1,"k":"g"},{"x":7.9,"y":10.5,"s":1,"k":"g"},{"x":7.4,"y":11.6,"s":1,"k":"g"},{"x":7.7,"y":12.3,"s":1,"k":"g"},{"x":8.8,"y":12.9,"s":1,"k":"g"},{"x":9.4,"y":13.2,"s":1,"k":"g"},{"x":10,"y":14.3,"s":1,"k":"g"},{"x":11,"y":14.7,"s":1,"k":"g"},{"x":12.2,"y":14.6,"s":1,"k":"g"},{"x":12.7,"y":14.1,"s":1,"k":"g"},{"x":12.2,"y":13.6,"s":1,"k":"g"},{"x":11,"y":13.4,"s":1,"k":"g"},{"x":10.6,"y":12.7,"s":1,"k":"g"},{"x":11,"y":11.9,"s":1,"k":"g"},{"x":12.1,"y":11.8,"s":1,"k":"g"},{"x":13.6,"y":12,"s":1,"k":"g"},{"x":14.3,"y":13.4,"s":1,"k":"g"},{"x":14.4,"y":14.3,"s":1,"k":"g"},{"x":15.2,"y":14.8,"s":1,"k":"g"},{"x":15.9,"y":14.8,"s":1,"k":"g"},{"x":16.2,"y":15.7,"s":1,"k":"g"},{"x":16.1,"y":16.3,"s":1,"k":"g"},{"x":16.5,"y":16.9,"s":1,"k":"g"},{"x":17.7,"y":17,"s":1,"k":"g"},{"x":18.3,"y":16.1,"s":1,"k":"g"},{"x":18.1,"y":15.2,"s":1,"k":"g"},{"x":17.6,"y":14.6,"s":1,"k":"g"},{"x":17.2,"y":13.4,"s":1,"k":"g"},{"x":16.7,"y":12,"s":1,"k":"g"},{"x":15.6,"y":11.1,"s":1,"k":"g"},{"x":15.4,"y":10.5,"s":1,"k":"g"},{"x":15.6,"y":9.1,"s":1,"k":"g"},{"x":15,"y":7.7,"s":1,"k":"g"},{"x":13.6,"y":6.3,"s":1,"k":"g"},{"x":13.2,"y":5.7,"s":1,"k":"g"},{"x":11.5,"y":6.4,"s":1,"k":"g"},{"x":10,"y":6.3,"s":1,"k":"g"},{"x":8.8,"y":7,"s":1,"k":"g"},{"x":7.7,"y":7.3,"s":1,"k":"g"},
{"x":12.2,"y":16,"s":2,"k":"g"},{"x":12.7,"y":16.8,"s":2,"k":"g"},{"x":13.3,"y":17,"s":2,"k":"g"},{"x":14.1,"y":16.1,"s":2,"k":"g"},{"x":13.9,"y":15.3,"s":2,"k":"g"},{"x":13.2,"y":14.8,"s":2,"k":"g"},{"x":12.5,"y":15.3,"s":2,"k":"g"},
{"x":5.5,"y":11,"s":3,"k":"g"},{"x":6.1,"y":11.5,"s":3,"k":"g"},{"x":6.6,"y":11,"s":3,"k":"g"},{"x":6.1,"y":10.4,"s":3,"k":"g"},
{"x":6.6,"y":6,"s":4,"k":"g"},{"x":7.1,"y":6.5,"s":4,"k":"g"},{"x":7.7,"y":6,"s":4,"k":"g"},{"x":7.1,"y":5.4,"s":4,"k":"g"},
{"x":10,"y":11.1,"s":5,"k":"r"},{"x":10.8,"y":11.3,"s":5,"k":"r"},{"x":12.1,"y":10.9,"s":5,"k":"r"},{"x":13.4,"y":11,"s":5,"k":"r"},{"x":14.5,"y":11.4,"s":5,"k":"r"},{"x":14.7,"y":10.5,"s":5,"k":"r"},{"x":14.1,"y":9.3,"s":5,"k":"r"},{"x":13.3,"y":8,"s":5,"k":"r"},{"x":12.6,"y":7.1,"s":5,"k":"r"},{"x":11.5,"y":6.8,"s":5,"k":"r"},{"x":10.1,"y":6.9,"s":5,"k":"r"},{"x":9.2,"y":7.3,"s":5,"k":"r"},{"x":8.8,"y":8,"s":5,"k":"r"},{"x":10,"y":8.6,"s":5,"k":"r"},{"x":10.4,"y":9.5,"s":5,"k":"r"},{"x":10,"y":10.2,"s":5,"k":"r"},
{"x":16.7,"y":15.9,"s":6,"k":"r"},{"x":17.2,"y":16.5,"s":6,"k":"r"},{"x":17.8,"y":15.9,"s":6,"k":"r"},{"x":17.2,"y":15.2,"s":6,"k":"r"},
{"x":12.9,"y":16,"s":7,"k":"r"},{"x":13.2,"y":16.3,"s":7,"k":"r"},{"x":13.4,"y":16,"s":7,"k":"r"},{"x":13.2,"y":15.7,"s":7,"k":"r"},
{"x":15.1,"y":13.9,"s":8,"k":"r"},{"x":15.4,"y":14.2,"s":8,"k":"r"},{"x":15.7,"y":13.9,"s":8,"k":"r"},{"x":15.4,"y":13.6,"s":8,"k":"r"}],
"g2":[{"x":13,"y":16},{"x":17,"y":16},{"x":17,"y":15},{"x":10,"y":14},{"x":11,"y":14},{"x":12,"y":14},{"x":15,"y":14},{"x":16,"y":14},{"x":10,"y":13},{"x":16,"y":13},{"x":8,"y":12},{"x":9,"y":12},{"x":14,"y":12},{"x":15,"y":12},{"x":16,"y":12},{"x":6,"y":11},{"x":8,"y":11},{"x":11,"y":11},{"x":12,"y":11},{"x":13,"y":11},{"x":14,"y":11},{"x":9,"y":10},{"x":10,"y":10},{"x":11,"y":10},{"x":12,"y":10},{"x":13,"y":10},{"x":15,"y":10},{"x":7,"y":9},{"x":8,"y":9},{"x":9,"y":9},{"x":10,"y":9},{"x":11,"y":9},{"x":12,"y":9,"n":2},{"x":13,"y":9},{"x":14,"y":9},{"x":15,"y":9},{"x":7,"y":8},{"x":8,"y":8},{"x":9,"y":8},{"x":10,"y":8},{"x":11,"y":8},{"x":12,"y":8},{"x":14,"y":8},{"x":9,"y":7},{"x":10,"y":7},{"x":11,"y":7},{"x":12,"y":7},{"x":13,"y":7},{"x":7,"y":6},{"x":13,"y":6}],
"g3":[{"x":14.5,"y":17,"e":1},{"x":12.9,"y":16.4,"e":1},{"x":11,"y":15.3,"e":1},{"x":9,"y":13.4,"e":1},{"x":7.4,"y":10.9,"e":1},{"x":6.3,"y":8.8,"e":1},{"x":5.7,"y":6.8,"e":1},{"x":5.9,"y":5.5,"e":1},{"x":6.3,"y":4.8,"e":1},{"x":16.5,"y":17,"e":2},{"x":17.6,"y":16.4,"e":2},{"x":18.3,"y":15.4,"e":2},{"x":12.3,"y":4.9,"e":3},{"x":14.3,"y":6.3,"e":3},{"x":16.2,"y":8.4,"e":3},{"x":17.6,"y":10.7,"e":3},{"x":18.3,"y":12.3,"e":3}],
"h1":[{"x":5,"y":7.7,"s":1,"k":"g"},{"x":5.2,"y":8.6,"s":1,"k":"g"},{"x":6.1,"y":9,"s":1,"k":"g"},{"x":6.4,"y":9.3,"s":1,"k":"g"},{"x":6.8,"y":11.1,"s":1,"k":"g"},{"x":7.4,"y":12.3,"s":1,"k":"g"},{"x":8,"y":12.8,"s":1,"k":"g"},{"x":8.9,"y":12.1,"s":1,"k":"g"},{"x":10.1,"y":11.8,"s":1,"k":"g"},{"x":11.3,"y":10.9,"s":1,"k":"g"},{"x":11.8,"y":11.1,"s":1,"k":"g"},{"x":11.8,"y":12,"s":1,"k":"g"},{"x":12.6,"y":12.5,"s":1,"k":"g"},{"x":13.1,"y":12.3,"s":1,"k":"g"},{"x":13.5,"y":12.5,"s":1,"k":"g"},{"x":13.7,"y":11.5,"s":1,"k":"g"},{"x":14.4,"y":11.8,"s":1,"k":"g"},{"x":14.9,"y":12.5,"s":1,"k":"g"},{"x":16,"y":12.9,"s":1,"k":"g"},{"x":16.8,"y":12.3,"s":1,"k":"g"},{"x":16.9,"y":11.1,"s":1,"k":"g"},{"x":16.4,"y":9.6,"s":1,"k":"g"},{"x":15.4,"y":9.5,"s":1,"k":"g"},{"x":14.6,"y":10.3,"s":1,"k":"g"},{"x":13.8,"y":10.4,"s":1,"k":"g"},{"x":14,"y":9.5,"s":1,"k":"g"},{"x":14.5,"y":8.9,"s":1,"k":"g"},{"x":14,"y":8.4,"s":1,"k":"g"},{"x":13.7,"y":7.9,"s":1,"k":"g"},{"x":13.7,"y":6.6,"s":1,"k":"g"},{"x":13,"y":5.7,"s":1,"k":"g"},{"x":11.8,"y":6.4,"s":1,"k":"g"},{"x":10.3,"y":6.4,"s":1,"k":"g"},{"x":8.5,"y":6.4,"s":1,"k":"g"},{"x":7.1,"y":7,"s":1,"k":"g"},{"x":6.4,"y":7.3,"s":1,"k":"g"},{"x":5.4,"y":7.1,"s":1,"k":"g"},
{"x":8.9,"y":16.1,"s":2,"k":"g"},{"x":9.9,"y":17,"s":2,"k":"g"},{"x":10.9,"y":16.3,"s":2,"k":"g"},{"x":11.1,"y":15.6,"s":2,"k":"g"},{"x":10.2,"y":14.9,"s":2,"k":"g"},{"x":9.2,"y":15.3,"s":2,"k":"g"},
{"x":9.4,"y":12.9,"s":3,"k":"g"},{"x":10.3,"y":13.9,"s":3,"k":"g"},{"x":10.7,"y":14.8,"s":3,"k":"g"},{"x":11.8,"y":15.4,"s":3,"k":"g"},{"x":12.6,"y":15,"s":3,"k":"g"},{"x":12.3,"y":14.5,"s":3,"k":"g"},{"x":11.4,"y":13.4,"s":3,"k":"g"},{"x":10.1,"y":12.3,"s":3,"k":"g"},{"x":9.6,"y":12.5,"s":3,"k":"g"},
{"x":12.7,"y":14.1,"s":4,"k":"g"},{"x":13.7,"y":15,"s":4,"k":"g"},{"x":14,"y":16.3,"s":4,"k":"g"},{"x":15,"y":17,"s":4,"k":"g"},{"x":16,"y":16.4,"s":4,"k":"g"},{"x":16.1,"y":15.4,"s":4,"k":"g"},{"x":15.4,"y":14.6,"s":4,"k":"g"},{"x":16.1,"y":14,"s":4,"k":"g"},{"x":15.4,"y":13.4,"s":4,"k":"g"},{"x":14.6,"y":13,"s":4,"k":"g"},{"x":14,"y":12.5,"s":4,"k":"g"},{"x":13,"y":13.4,"s":4,"k":"g"},
{"x":5.5,"y":6,"s":5,"k":"g"},{"x":6,"y":6.6,"s":5,"k":"g"},{"x":6.5,"y":6,"s":5,"k":"g"},{"x":6,"y":5.4,"s":5,"k":"g"},
{"x":7.4,"y":11.1,"s":6,"k":"r"},{"x":7.6,"y":11.7,"s":6,"k":"r"},{"x":9,"y":11.7,"s":6,"k":"r"},{"x":9.9,"y":11.5,"s":6,"k":"r"},{"x":10.9,"y":10.2,"s":6,"k":"r"},{"x":11.4,"y":8.4,"s":6,"k":"r"},{"x":12.2,"y":7.7,"s":6,"k":"r"},{"x":12.3,"y":7.1,"s":6,"k":"r"},{"x":11.3,"y":7.1,"s":6,"k":"r"},{"x":10.1,"y":7.3,"s":6,"k":"r"},{"x":8.5,"y":7.3,"s":6,"k":"r"},{"x":7.4,"y":7.7,"s":6,"k":"r"},{"x":6.8,"y":8.1,"s":6,"k":"r"},{"x":6.4,"y":7.7,"s":6,"k":"r"},{"x":5.9,"y":7.9,"s":6,"k":"r"},{"x":6.3,"y":8.3,"s":6,"k":"r"},{"x":7,"y":8.4,"s":6,"k":"r"},{"x":7.3,"y":9.8,"s":6,"k":"r"},
{"x":13.3,"y":13.9,"s":7,"k":"r"},{"x":14,"y":14.7,"s":7,"k":"r"},{"x":14.7,"y":13.9,"s":7,"k":"r"},{"x":14,"y":13.1,"s":7,"k":"r"},
{"x":14.5,"y":16,"s":8,"k":"r"},{"x":15.1,"y":16.5,"s":8,"k":"r"},{"x":15.5,"y":16,"s":8,"k":"r"},{"x":15.1,"y":15.4,"s":8,"k":"r"},
{"x":15.1,"y":11,"s":9,"k":"r"},{"x":15.4,"y":11.1,"s":9,"k":"r"},{"x":15.7,"y":11,"s":9,"k":"r"},{"x":15.4,"y":10.9,"s":9,"k":"r"},
{"x":9.7,"y":16.1,"s":10,"k":"r"},{"x":9.9,"y":16.3,"s":10,"k":"r"},{"x":10.2,"y":16.1,"s":10,"k":"r"},{"x":9.9,"y":15.9,"s":10,"k":"r"}],
"h2":[{"x":10,"y":16},{"x":15,"y":16},{"x":12,"y":15},{"x":11,"y":14},{"x":14,"y":14},{"x":15,"y":14},{"x":16,"y":14},{"x":10,"y":13},{"x":14,"y":13},{"x":8,"y":12},{"x":12,"y":12},{"x":13,"y":12},{"x":16,"y":12},{"x":8,"y":11},{"x":9,"y":11},{"x":10,"y":11},{"x":13,"y":11},{"x":15,"y":11},{"x":16,"y":11},{"x":7,"y":10},{"x":8,"y":10},{"x":9,"y":10},{"x":10,"y":10},{"x":11,"y":10},{"x":12,"y":10},{"x":13,"y":10},{"x":16,"y":10},{"x":7,"y":9},{"x":8,"y":9},{"x":9,"y":9},{"x":10,"y":9,"n":2},{"x":11,"y":9},{"x":12,"y":9},{"x":13,"y":9},{"x":14,"y":9},{"x":6,"y":8},{"x":7,"y":8},{"x":8,"y":8},{"x":9,"y":8},{"x":10,"y":8},{"x":11,"y":8},{"x":12,"y":8},{"x":13,"y":8},{"x":8,"y":7},{"x":11,"y":7},{"x":12,"y":7},{"x":13,"y":7},{"x":6,"y":6},{"x":13,"y":6}],
"h3":[{"x":13,"y":17,"e":1},{"x":11.6,"y":16.7,"e":1},{"x":10.1,"y":16.1,"e":1},{"x":8.5,"y":15.1,"e":1},{"x":7,"y":13.4,"e":1},{"x":5.9,"y":12,"e":1},{"x":4.9,"y":10.6,"e":1},{"x":15.1,"y":17,"e":2},{"x":16.1,"y":16.5,"e":2},{"x":17,"y":15.6,"e":2},{"x":17,"y":11.1,"e":3},{"x":16.1,"y":9.1,"e":3},{"x":14.9,"y":7.3,"e":3},{"x":13.1,"y":5.6,"e":3},{"x":11.4,"y":4.9,"e":3}],
"i1":[{"x":5.4,"y":5.9,"s":1,"k":"g"},{"x":5.8,"y":7,"s":1,"k":"g"},{"x":5.7,"y":7.7,"s":1,"k":"g"},{"x":6.3,"y":8.8,"s":1,"k":"g"},{"x":6.1,"y":10.2,"s":1,"k":"g"},{"x":6.1,"y":11.4,"s":1,"k":"g"},{"x":6.7,"y":12.3,"s":1,"k":"g"},{"x":8.1,"y":12.5,"s":1,"k":"g"},{"x":9.1,"y":12.3,"s":1,"k":"g"},{"x":9.1,"y":13.9,"s":1,"k":"g"},{"x":10,"y":15,"s":1,"k":"g"},{"x":11,"y":15.5,"s":1,"k":"g"},{"x":12.2,"y":14.8,"s":1,"k":"g"},{"x":12.2,"y":16.1,"s":1,"k":"g"},{"x":13.5,"y":17,"s":1,"k":"g"},{"x":14.7,"y":16.1,"s":1,"k":"g"},{"x":14.7,"y":15.2,"s":1,"k":"g"},{"x":14,"y":14.8,"s":1,"k":"g"},{"x":14.7,"y":14.1,"s":1,"k":"g"},{"x":14,"y":13,"s":1,"k":"g"},{"x":13.7,"y":12.5,"s":1,"k":"g"},{"x":14.7,"y":12.7,"s":1,"k":"g"},{"x":16.3,"y":12.5,"s":1,"k":"g"},{"x":16.5,"y":11.3,"s":1,"k":"g"},{"x":16.1,"y":10.5,"s":1,"k":"g"},{"x":16.7,"y":9.8,"s":1,"k":"g"},{"x":16.1,"y":9.1,"s":1,"k":"g"},{"x":14.9,"y":9.3,"s":1,"k":"g"},{"x":13.9,"y":9.8,"s":1,"k":"g"},{"x":13,"y":10.2,"s":1,"k":"g"},{"x":12.9,"y":9.1,"s":1,"k":"g"},{"x":13.2,"y":8,"s":1,"k":"g"},{"x":12.7,"y":7.5,"s":1,"k":"g"},{"x":11.1,"y":7.3,"s":1,"k":"g"},{"x":9.7,"y":6.5,"s":1,"k":"g"},{"x":8.4,"y":6.4,"s":1,"k":"g"},{"x":6.3,"y":5.4,"s":1,"k":"g"},
{"x":7,"y":16,"s":2,"k":"g"},{"x":8,"y":17,"s":2,"k":"g"},{"x":9.1,"y":16,"s":2,"k":"g"},{"x":8,"y":14.9,"s":2,"k":"g"},
{"x":14.8,"y":6.5,"s":3,"k":"g"},{"x":15.1,"y":7.1,"s":3,"k":"g"},{"x":15.4,"y":6.5,"s":3,"k":"g"},{"x":15.1,"y":5.9,"s":3,"k":"g"},
{"x":11.5,"y":12.3,"s":4,"k":"w"},{"x":12,"y":13.2,"s":4,"k":"w"},{"x":13.4,"y":12.7,"s":4,"k":"w"},{"x":12.9,"y":11.6,"s":4,"k":"w"},{"x":12.3,"y":12.3,"s":4,"k":"w"},
{"x":10.8,"y":12,"s":5,"k":"w"},{"x":11.1,"y":12.3,"s":5,"k":"w"},{"x":11.4,"y":12,"s":5,"k":"w"},{"x":11.1,"y":11.7,"s":5,"k":"w"},
{"x":6.8,"y":10.2,"s":6,"k":"r"},{"x":7.5,"y":11.1,"s":6,"k":"r"},{"x":8.6,"y":11.3,"s":6,"k":"r"},{"x":10,"y":11.4,"s":6,"k":"r"},{"x":10.9,"y":10.7,"s":6,"k":"r"},{"x":11.9,"y":10.2,"s":6,"k":"r"},{"x":12.2,"y":9.3,"s":6,"k":"r"},{"x":11.8,"y":8.4,"s":6,"k":"r"},{"x":10.5,"y":7.9,"s":6,"k":"r"},{"x":8.9,"y":7.2,"s":6,"k":"r"},{"x":7.6,"y":6.6,"s":6,"k":"r"},{"x":6.6,"y":7,"s":6,"k":"r"},{"x":6.2,"y":7.9,"s":6,"k":"r"},{"x":7,"y":8.9,"s":6,"k":"r"},
{"x":8.1,"y":9.8,"s":7,"k":"h"},{"x":8.6,"y":10.5,"s":7,"k":"h"},{"x":9.2,"y":9.8,"s":7,"k":"h"},{"x":8.6,"y":9,"s":7,"k":"h"},
{"x":10.3,"y":13.5,"s":8,"k":"r"},{"x":10.6,"y":14.3,"s":8,"k":"r"},{"x":11.2,"y":14.4,"s":8,"k":"r"},{"x":11.1,"y":13.9,"s":8,"k":"r"},{"x":10.5,"y":13.4,"s":8,"k":"r"},
{"x":13,"y":16,"s":9,"k":"r"},{"x":13.5,"y":16.3,"s":9,"k":"r"},{"x":14.1,"y":16,"s":9,"k":"r"},{"x":13.5,"y":15.6,"s":9,"k":"r"},
{"x":7.6,"y":16,"s":10,"k":"r"},{"x":8,"y":16.4,"s":10,"k":"r"},{"x":8.4,"y":15.9,"s":10,"k":"r"},{"x":8,"y":15.5,"s":10,"k":"r"},
{"x":13.9,"y":11.1,"s":11,"k":"r"},{"x":14.3,"y":11.4,"s":11,"k":"r"},{"x":15.1,"y":10.3,"s":11,"k":"r"},{"x":14.6,"y":10.3,"s":11,"k":"r"},{"x":14.1,"y":10.5,"s":11,"k":"r"}],
"i2":[{"x":8,"y":16},{"x":13,"y":16},{"x":14,"y":16},{"x":11,"y":15},{"x":10,"y":14},{"x":11,"y":14},{"x":13,"y":14},{"x":14,"y":14},{"x":16,"y":14},{"x":10,"y":13},{"x":11,"y":13},{"x":7,"y":12},{"x":8,"y":12},{"x":12,"y":12},{"x":14,"y":12},{"x":16,"y":12},{"x":7,"y":11},{"x":8,"y":11},{"x":9,"y":11},{"x":10,"y":11},{"x":12,"y":11},{"x":14,"y":11},{"x":15,"y":11},{"x":7,"y":10},{"x":8,"y":10},{"x":10,"y":10},{"x":11,"y":10},{"x":12,"y":10},{"x":15,"y":10},{"x":16,"y":10},{"x":8,"y":9},{"x":10,"y":9},{"x":11,"y":9,"n":2},{"x":12,"y":9},{"x":6,"y":8},{"x":7,"y":8},{"x":8,"y":8},{"x":9,"y":8},{"x":10,"y":8},{"x":11,"y":8},{"x":12,"y":8},{"x":13,"y":8},{"x":16,"y":8},{"x":7,"y":7},{"x":8,"y":7},{"x":10,"y":7},{"x":15,"y":7},{"x":6,"y":6},{"x":15,"y":6}],
"i3":[{"x":11.5,"y":17,"e":1},{"x":10.1,"y":16.7,"e":1},{"x":8.6,"y":15.7,"e":1},{"x":7.1,"y":14.1,"e":1},{"x":5.8,"y":12.9,"e":1},{"x":4.9,"y":12,"e":1},{"x":13.6,"y":17,"e":2},{"x":14.9,"y":16.4,"e":2},{"x":16.1,"y":15.2,"e":2},{"x":16.8,"y":13.6,"e":2},{"x":16.9,"y":12,"e":2},{"x":16.5,"y":9.8,"e":2},{"x":15.4,"y":7.9,"e":2},{"x":13.9,"y":6.1,"e":2},{"x":12,"y":4.9,"e":2},{"x":4.9,"y":5.1,"e":3},{"x":5.2,"y":4.9,"e":3}],
"j1":[{"x":4.9,"y":10.4,"s":1,"k":"g"},{"x":5.2,"y":11.4,"s":1,"k":"g"},{"x":6.3,"y":12,"s":1,"k":"g"},{"x":7.3,"y":12.5,"s":1,"k":"g"},{"x":8.1,"y":13.2,"s":1,"k":"g"},{"x":9,"y":13.6,"s":1,"k":"g"},{"x":9.5,"y":12.7,"s":1,"k":"g"},{"x":9.3,"y":11.7,"s":1,"k":"g"},{"x":9.7,"y":11.8,"s":1,"k":"g"},{"x":10,"y":12.3,"s":1,"k":"g"},{"x":10.6,"y":12.1,"s":1,"k":"g"},{"x":11,"y":11.6,"s":1,"k":"g"},{"x":11.6,"y":12.1,"s":1,"k":"g"},{"x":10.9,"y":13.2,"s":1,"k":"g"},{"x":10.8,"y":14.1,"s":1,"k":"g"},{"x":11.6,"y":14.8,"s":1,"k":"g"},{"x":12.9,"y":14.6,"s":1,"k":"g"},{"x":13,"y":15.9,"s":1,"k":"g"},{"x":13.5,"y":16.9,"s":1,"k":"g"},{"x":14.5,"y":17,"s":1,"k":"g"},{"x":15.2,"y":15.7,"s":1,"k":"g"},{"x":14.8,"y":14.5,"s":1,"k":"g"},{"x":14.4,"y":13.4,"s":1,"k":"g"},{"x":13.1,"y":13.2,"s":1,"k":"g"},{"x":12.8,"y":12.3,"s":1,"k":"g"},{"x":13.1,"y":11.4,"s":1,"k":"g"},{"x":14.4,"y":11.8,"s":1,"k":"g"},{"x":16.1,"y":12.5,"s":1,"k":"g"},{"x":16.8,"y":12,"s":1,"k":"g"},{"x":16.7,"y":9.8,"s":1,"k":"g"},{"x":15.4,"y":9.3,"s":1,"k":"g"},{"x":13.9,"y":9.3,"s":1,"k":"g"},{"x":13,"y":9.1,"s":1,"k":"g"},{"x":12.5,"y":8.4,"s":1,"k":"g"},{"x":12.4,"y":6.8,"s":1,"k":"g"},{"x":11,"y":6.4,"s":1,"k":"g"},{"x":8.3,"y":6.3,"s":1,"k":"g"},{"x":6.6,"y":5.5,"s":1,"k":"g"},{"x":5.7,"y":5.7,"s":1,"k":"g"},{"x":5.5,"y":7.3,"s":1,"k":"g"},{"x":5.4,"y":8.8,"s":1,"k":"g"},
{"x":7,"y":16,"s":2,"k":"g"},{"x":8,"y":17,"s":2,"k":"g"},{"x":9,"y":16,"s":2,"k":"g"},{"x":8,"y":14.9,"s":2,"k":"g"},
{"x":5.4,"y":10.5,"s":3,"k":"r"},{"x":5.8,"y":11.3,"s":3,"k":"r"},{"x":7.1,"y":11.6,"s":3,"k":"r"},{"x":8.1,"y":11.8,"s":3,"k":"r"},{"x":8.5,"y":11.1,"s":3,"k":"r"},{"x":8.1,"y":9.8,"s":3,"k":"r"},{"x":8.5,"y":9.3,"s":3,"k":"r"},{"x":9.1,"y":9.5,"s":3,"k":"r"},{"x":9.7,"y":10.4,"s":3,"k":"r"},{"x":10.5,"y":10.2,"s":3,"k":"r"},{"x":11.1,"y":9.3,"s":3,"k":"r"},{"x":11.5,"y":7.7,"s":3,"k":"r"},{"x":10.4,"y":7.3,"s":3,"k":"r"},{"x":9,"y":7.1,"s":3,"k":"r"},{"x":7.3,"y":6.8,"s":3,"k":"r"},{"x":6.3,"y":7.3,"s":3,"k":"r"},{"x":5.9,"y":7.9,"s":3,"k":"r"},{"x":6.8,"y":8.9,"s":3,"k":"r"},{"x":7.3,"y":9.3,"s":3,"k":"r"},{"x":6.1,"y":9.3,"s":3,"k":"r"},{"x":5.5,"y":9.8,"s":3,"k":"r"},
{"x":13.4,"y":16.1,"s":4,"k":"r"},{"x":14,"y":16.5,"s":4,"k":"r"},{"x":14.7,"y":15.9,"s":4,"k":"r"},{"x":14.3,"y":14.6,"s":4,"k":"r"},{"x":14.4,"y":13.8,"s":4,"k":"r"},{"x":13.8,"y":13.6,"s":4,"k":"r"},{"x":13.3,"y":14.1,"s":4,"k":"r"},{"x":13.7,"y":15,"s":4,"k":"r"},
{"x":11.8,"y":13.8,"s":5,"k":"r"},{"x":12.2,"y":14.2,"s":5,"k":"r"},{"x":12.6,"y":13.8,"s":5,"k":"r"},{"x":12.2,"y":13.5,"s":5,"k":"r"},
{"x":7.6,"y":16,"s":6,"k":"r"},{"x":8,"y":16.4,"s":6,"k":"r"},{"x":8.3,"y":15.9,"s":6,"k":"r"},{"x":8,"y":15.6,"s":6,"k":"r"}],
"j2":[{"x":8,"y":16},{"x":14,"y":16},{"x":14,"y":15},{"x":8,"y":14},{"x":11,"y":14},{"x":12,"y":14},{"x":13,"y":14},{"x":14,"y":14},{"x":9,"y":13},{"x":12,"y":13},{"x":7,"y":12},{"x":8,"y":12},{"x":10,"y":12},{"x":12,"y":12},{"x":16,"y":12},{"x":6,"y":11},{"x":7,"y":11},{"x":8,"y":11},{"x":10,"y":11},{"x":12,"y":11},{"x":14,"y":11},{"x":15,"y":11},{"x":16,"y":11},{"x":6,"y":10},{"x":7,"y":10},{"x":8,"y":10},{"x":11,"y":10},{"x":12,"y":10},{"x":13,"y":10},{"x":14,"y":10},{"x":15,"y":10},{"x":7,"y":9},{"x":8,"y":9},{"x":9,"y":9},{"x":10,"y":9,"n":2},{"x":11,"y":9},{"x":12,"y":9},{"x":6,"y":8},{"x":7,"y":8},{"x":8,"y":8},{"x":9,"y":8},{"x":10,"y":8},{"x":11,"y":8},{"x":12,"y":8},{"x":7,"y":7},{"x":8,"y":7},{"x":9,"y":7},{"x":10,"y":7},{"x":11,"y":7},{"x":12,"y":7},{"x":6,"y":6},{"x":11,"y":6}],
"j3":[{"x":11.8,"y":17,"e":1},{"x":10.4,"y":16.7,"e":1},{"x":8.8,"y":15.8,"e":1},{"x":7.3,"y":14.4,"e":1},{"x":6.1,"y":13.2,"e":1},{"x":5,"y":12.5,"e":1},{"x":13.9,"y":17,"e":2},{"x":14.9,"y":16.4,"e":2},{"x":16.1,"y":15.2,"e":2},{"x":16.6,"y":14.1,"e":2},{"x":11.1,"y":4.9,"e":3},{"x":12.9,"y":5.9,"e":3},{"x":14.4,"y":7.3,"e":3},{"x":15.7,"y":8.9,"e":3},{"x":16.6,"y":10.9,"e":3}]
},
"concat":[
{"width":167,"height":118.5,"encoding":{"x":{"field":"x","type":"quantitative","axis":null,"scale":{"domain":[4.79,18.6],"nice":false,"zero":false}},"y":{"field":"y","type":"quantitative","scale":{"domain":[4.59,17.28],"nice":false,"zero":false},"axis":{"title":["Psychologic","factor"],"titleFont":"Liberation Sans","titleFontSize":16.5,"titleLineHeight":30,"titleX":-108,"titleY":66,"values":[5,6,7,8,9,10,11,12,13,14,15,16],"labelPadding":13,"labelExpr":"datum.value%2==0&&datum.value<16?datum.label:''","tickSize":{"condition":{"test":"datum.value%2==1","value":4},"value":11}}}},"layer":[{"data":{"name":"a1"},"mark":{"type":"line","interpolate":"cardinal-closed","strokeWidth":0},"encoding":{"detail":{"field":"s"},"order":{"value":null},"fill":{"field":"k","type":"nominal","legend":null,"scale":{"domain":["g","w","r","h"],"range":["#c8c8c8","#ffffff","#f58a98","#c8c8c8"]}}}},{"data":{"name":"a2"},"mark":{"type":"point","filled":true,"shape":"M-1,-0.65H1V0.65H-1Z","size":16},"encoding":{"fill":{"condition":{"test":"datum.n==2","value":"#7a0c1e"},"value":"#333333"},"opacity":{"condition":{"test":"datum.n==2","value":1},"value":0.35}}},{"data":{"name":"a3"},"mark":{"type":"line","interpolate":"cardinal","stroke":"#e8344e","strokeWidth":1.6},"encoding":{"detail":{"field":"e"},"order":{"value":null}}}]},
{"width":167,"height":118.5,"view":{"stroke":null},"data":{"values":[{"a":1}]},"mark":{"type":"point","opacity":0}},
{"width":167,"height":118.5,"view":{"stroke":null},"data":{"values":[{"a":1}]},"mark":{"type":"point","opacity":0}},
{"width":167,"height":118.5,"view":{"stroke":null},"data":{"values":[{"a":1}]},"mark":{"type":"point","opacity":0}},
{"width":167,"height":118.5,"encoding":{"x":{"field":"x","type":"quantitative","axis":null,"scale":{"domain":[4.79,18.6],"nice":false,"zero":false}},"y":{"field":"y","type":"quantitative","scale":{"domain":[4.59,17.28],"nice":false,"zero":false},"axis":{"title":["Interperson","factor"],"titleFont":"Liberation Sans","titleFontSize":16.5,"titleLineHeight":30,"titleX":-108,"titleY":65.5,"values":[5,6,7,8,9,10,11,12,13,14,15,16],"labelPadding":13,"labelExpr":"datum.value%2==0&&datum.value<16?datum.label:''","tickSize":{"condition":{"test":"datum.value%2==1","value":4},"value":11}}}},"layer":[{"data":{"name":"b1"},"mark":{"type":"line","interpolate":"cardinal-closed","strokeWidth":0},"encoding":{"detail":{"field":"s"},"order":{"value":null},"fill":{"field":"k","type":"nominal","legend":null,"scale":{"domain":["g","w","r","h"],"range":["#c8c8c8","#ffffff","#f58a98","#c8c8c8"]}}}},{"data":{"name":"b2"},"mark":{"type":"point","filled":true,"shape":"M-1,-0.65H1V0.65H-1Z","size":16},"encoding":{"fill":{"condition":{"test":"datum.n==2","value":"#7a0c1e"},"value":"#333333"},"opacity":{"condition":{"test":"datum.n==2","value":1},"value":0.35}}},{"data":{"name":"b3"},"mark":{"type":"line","interpolate":"cardinal","stroke":"#e8344e","strokeWidth":1.6},"encoding":{"detail":{"field":"e"},"order":{"value":null}}}]},
{"width":167,"height":118.5,"encoding":{"x":{"field":"x","type":"quantitative","axis":null,"scale":{"domain":[4.63,17.31],"nice":false,"zero":false}},"y":{"field":"y","type":"quantitative","axis":null,"scale":{"domain":[4.59,17.28],"nice":false,"zero":false}}},"layer":[{"data":{"name":"c1"},"mark":{"type":"line","interpolate":"cardinal-closed","strokeWidth":0},"encoding":{"detail":{"field":"s"},"order":{"value":null},"fill":{"field":"k","type":"nominal","legend":null,"scale":{"domain":["g","w","r","h"],"range":["#c8c8c8","#ffffff","#f58a98","#c8c8c8"]}}}},{"data":{"name":"c2"},"mark":{"type":"point","filled":true,"shape":"M-1,-0.65H1V0.65H-1Z","size":16},"encoding":{"fill":{"condition":{"test":"datum.n==2","value":"#7a0c1e"},"value":"#333333"},"opacity":{"condition":{"test":"datum.n==2","value":1},"value":0.35}}},{"data":{"name":"c3"},"mark":{"type":"line","interpolate":"cardinal","stroke":"#e8344e","strokeWidth":1.6},"encoding":{"detail":{"field":"e"},"order":{"value":null}}}]},
{"width":167,"height":118.5,"view":{"stroke":null},"data":{"values":[{"a":1}]},"mark":{"type":"point","opacity":0}},
{"width":167,"height":118.5,"view":{"stroke":null},"data":{"values":[{"a":1}]},"mark":{"type":"point","opacity":0}},
{"width":167,"height":118.5,"encoding":{"x":{"field":"x","type":"quantitative","axis":null,"scale":{"domain":[4.79,18.6],"nice":false,"zero":false}},"y":{"field":"y","type":"quantitative","scale":{"domain":[4.59,17.28],"nice":false,"zero":false},"axis":{"title":["Financi","factor"],"titleFont":"Liberation Sans","titleFontSize":16.5,"titleLineHeight":30,"titleX":-108,"titleY":66,"values":[5,6,7,8,9,10,11,12,13,14,15,16],"labelPadding":13,"labelExpr":"datum.value%2==0&&datum.value<16?datum.label:''","tickSize":{"condition":{"test":"datum.value%2==1","value":4},"value":11}}}},"layer":[{"data":{"name":"d1"},"mark":{"type":"line","interpolate":"cardinal-closed","strokeWidth":0},"encoding":{"detail":{"field":"s"},"order":{"value":null},"fill":{"field":"k","type":"nominal","legend":null,"scale":{"domain":["g","w","r","h"],"range":["#c8c8c8","#ffffff","#f58a98","#c8c8c8"]}}}},{"data":{"name":"d2"},"mark":{"type":"point","filled":true,"shape":"M-1,-0.65H1V0.65H-1Z","size":16},"encoding":{"fill":{"condition":{"test":"datum.n==2","value":"#7a0c1e"},"value":"#333333"},"opacity":{"condition":{"test":"datum.n==2","value":1},"value":0.35}}},{"data":{"name":"d3"},"mark":{"type":"line","interpolate":"cardinal","stroke":"#e8344e","strokeWidth":1.6},"encoding":{"detail":{"field":"e"},"order":{"value":null}}}]},
{"width":167,"height":118.5,"encoding":{"x":{"field":"x","type":"quantitative","axis":null,"scale":{"domain":[4.63,17.31],"nice":false,"zero":false}},"y":{"field":"y","type":"quantitative","axis":null,"scale":{"domain":[4.59,17.28],"nice":false,"zero":false}}},"layer":[{"data":{"name":"e1"},"mark":{"type":"line","interpolate":"cardinal-closed","strokeWidth":0},"encoding":{"detail":{"field":"s"},"order":{"value":null},"fill":{"field":"k","type":"nominal","legend":null,"scale":{"domain":["g","w","r","h"],"range":["#c8c8c8","#ffffff","#f58a98","#c8c8c8"]}}}},{"data":{"name":"e2"},"mark":{"type":"point","filled":true,"shape":"M-1,-0.65H1V0.65H-1Z","size":16},"encoding":{"fill":{"condition":{"test":"datum.n==2","value":"#7a0c1e"},"value":"#333333"},"opacity":{"condition":{"test":"datum.n==2","value":1},"value":0.35}}},{"data":{"name":"e3"},"mark":{"type":"line","interpolate":"cardinal","stroke":"#e8344e","strokeWidth":1.6},"encoding":{"detail":{"field":"e"},"order":{"value":null}}}]},
{"width":167,"height":118.5,"encoding":{"x":{"field":"x","type":"quantitative","axis":null,"scale":{"domain":[4.55,17.23],"nice":false,"zero":false}},"y":{"field":"y","type":"quantitative","axis":null,"scale":{"domain":[4.59,17.28],"nice":false,"zero":false}}},"layer":[{"data":{"name":"f1"},"mark":{"type":"line","interpolate":"cardinal-closed","strokeWidth":0},"encoding":{"detail":{"field":"s"},"order":{"value":null},"fill":{"field":"k","type":"nominal","legend":null,"scale":{"domain":["g","w","r","h"],"range":["#c8c8c8","#ffffff","#f58a98","#c8c8c8"]}}}},{"data":{"name":"f2"},"mark":{"type":"point","filled":true,"shape":"M-1,-0.65H1V0.65H-1Z","size":16},"encoding":{"fill":{"condition":{"test":"datum.n==2","value":"#7a0c1e"},"value":"#333333"},"opacity":{"condition":{"test":"datum.n==2","value":1},"value":0.35}}},{"data":{"name":"f3"},"mark":{"type":"line","interpolate":"cardinal","stroke":"#e8344e","strokeWidth":1.6},"encoding":{"detail":{"field":"e"},"order":{"value":null}}}]},
{"width":167,"height":118.5,"view":{"stroke":null},"data":{"values":[{"a":1}]},"mark":{"type":"point","opacity":0}},
{"width":167,"height":118.5,"encoding":{"x":{"field":"x","type":"quantitative","scale":{"domain":[4.79,18.6],"nice":false,"zero":false},"axis":{"title":["Biologica","factor"],"titleFont":"DejaVu Sans","titleFontSize":18,"titleLineHeight":21,"titlePadding":13,"values":[5,6,7,8,9,10,11,12,13,14,15,16],"tickOffset":4.5,"labelOffset":-4.5,"labelPadding":5,"labelExpr":"datum.value%2==0&&datum.value<16&&datum.value!=12?datum.label:''","tickSize":{"condition":{"test":"datum.value%2==1","value":3},"value":7}}},"y":{"field":"y","type":"quantitative","scale":{"domain":[4.59,17.28],"nice":false,"zero":false},"axis":{"title":["Socio-Cultur","factor"],"titleFont":"Liberation Sans","titleFontSize":16.5,"titleLineHeight":30,"titleX":-108,"titleY":69.5,"values":[5,6,7,8,9,10,11,12,13,14,15,16],"labelPadding":13,"labelExpr":"datum.value%2==0&&datum.value<16?datum.label:''","tickSize":{"condition":{"test":"datum.value%2==1","value":4},"value":11}}}},"layer":[{"data":{"name":"g1"},"mark":{"type":"line","interpolate":"cardinal-closed","strokeWidth":0},"encoding":{"detail":{"field":"s"},"order":{"value":null},"fill":{"field":"k","type":"nominal","legend":null,"scale":{"domain":["g","w","r","h"],"range":["#c8c8c8","#ffffff","#f58a98","#c8c8c8"]}}}},{"data":{"name":"g2"},"mark":{"type":"point","filled":true,"shape":"M-1,-0.65H1V0.65H-1Z","size":16},"encoding":{"fill":{"condition":{"test":"datum.n==2","value":"#7a0c1e"},"value":"#333333"},"opacity":{"condition":{"test":"datum.n==2","value":1},"value":0.35}}},{"data":{"name":"g3"},"mark":{"type":"line","interpolate":"cardinal","stroke":"#e8344e","strokeWidth":1.6},"encoding":{"detail":{"field":"e"},"order":{"value":null}}}]},
{"width":167,"height":118.5,"encoding":{"x":{"field":"x","type":"quantitative","scale":{"domain":[4.63,17.31],"nice":false,"zero":false},"axis":{"title":["Psychologica","factor"],"titleFont":"DejaVu Sans","titleFontSize":18,"titleLineHeight":21,"titlePadding":13,"values":[5,6,7,8,9,10,11,12,13,14,15,16],"tickOffset":3.8,"labelOffset":-3.8,"labelPadding":5,"labelExpr":"datum.value%2==0&&datum.value<16?datum.label:''","tickSize":{"condition":{"test":"datum.value%2==1","value":3},"value":7}}},"y":{"field":"y","type":"quantitative","axis":null,"scale":{"domain":[4.59,17.28],"nice":false,"zero":false}}},"layer":[{"data":{"name":"h1"},"mark":{"type":"line","interpolate":"cardinal-closed","strokeWidth":0},"encoding":{"detail":{"field":"s"},"order":{"value":null},"fill":{"field":"k","type":"nominal","legend":null,"scale":{"domain":["g","w","r","h"],"range":["#c8c8c8","#ffffff","#f58a98","#c8c8c8"]}}}},{"data":{"name":"h2"},"mark":{"type":"point","filled":true,"shape":"M-1,-0.65H1V0.65H-1Z","size":16},"encoding":{"fill":{"condition":{"test":"datum.n==2","value":"#7a0c1e"},"value":"#333333"},"opacity":{"condition":{"test":"datum.n==2","value":1},"value":0.35}}},{"data":{"name":"h3"},"mark":{"type":"line","interpolate":"cardinal","stroke":"#e8344e","strokeWidth":1.6},"encoding":{"detail":{"field":"e"},"order":{"value":null}}}]},
{"width":167,"height":118.5,"encoding":{"x":{"field":"x","type":"quantitative","scale":{"domain":[4.55,17.23],"nice":false,"zero":false},"axis":{"title":["Interpersona","factor"],"titleFont":"DejaVu Sans","titleFontSize":18,"titleLineHeight":21,"titlePadding":13,"values":[5,6,7,8,9,10,11,12,13,14,15,16],"tickOffset":3.8,"labelOffset":-3.8,"labelPadding":5,"labelExpr":"datum.value%2==0&&datum.value<16?datum.label:''","tickSize":{"condition":{"test":"datum.value%2==1","value":3},"value":7}}},"y":{"field":"y","type":"quantitative","axis":null,"scale":{"domain":[4.59,17.28],"nice":false,"zero":false}}},"layer":[{"data":{"name":"i1"},"mark":{"type":"line","interpolate":"cardinal-closed","strokeWidth":0},"encoding":{"detail":{"field":"s"},"order":{"value":null},"fill":{"field":"k","type":"nominal","legend":null,"scale":{"domain":["g","w","r","h"],"range":["#c8c8c8","#ffffff","#f58a98","#c8c8c8"]}}}},{"data":{"name":"i2"},"mark":{"type":"point","filled":true,"shape":"M-1,-0.65H1V0.65H-1Z","size":16},"encoding":{"fill":{"condition":{"test":"datum.n==2","value":"#7a0c1e"},"value":"#333333"},"opacity":{"condition":{"test":"datum.n==2","value":1},"value":0.35}}},{"data":{"name":"i3"},"mark":{"type":"line","interpolate":"cardinal","stroke":"#e8344e","strokeWidth":1.6},"encoding":{"detail":{"field":"e"},"order":{"value":null}}}]},
{"width":167,"height":118.5,"encoding":{"x":{"field":"x","type":"quantitative","scale":{"domain":[4.68,17.36],"nice":false,"zero":false},"axis":{"title":["Financia","factor"],"titleFont":"DejaVu Sans","titleFontSize":18,"titleLineHeight":21,"titlePadding":13,"values":[5,6,7,8,9,10,11,12,13,14,15,16],"tickOffset":3.8,"labelOffset":-3.8,"labelPadding":5,"labelExpr":"datum.value%2==0&&datum.value<16?datum.label:''","tickSize":{"condition":{"test":"datum.value%2==1","value":3},"value":7}}},"y":{"field":"y","type":"quantitative","axis":null,"scale":{"domain":[4.59,17.28],"nice":false,"zero":false}}},"layer":[{"data":{"name":"j1"},"mark":{"type":"line","interpolate":"cardinal-closed","strokeWidth":0},"encoding":{"detail":{"field":"s"},"order":{"value":null},"fill":{"field":"k","type":"nominal","legend":null,"scale":{"domain":["g","w","r","h"],"range":["#c8c8c8","#ffffff","#f58a98","#c8c8c8"]}}}},{"data":{"name":"j2"},"mark":{"type":"point","filled":true,"shape":"M-1,-0.65H1V0.65H-1Z","size":16},"encoding":{"fill":{"condition":{"test":"datum.n==2","value":"#7a0c1e"},"value":"#333333"},"opacity":{"condition":{"test":"datum.n==2","value":1},"value":0.35}}},{"data":{"name":"j3"},"mark":{"type":"line","interpolate":"cardinal","stroke":"#e8344e","strokeWidth":1.6},"encoding":{"detail":{"field":"e"},"order":{"value":null}}}]}
]}
